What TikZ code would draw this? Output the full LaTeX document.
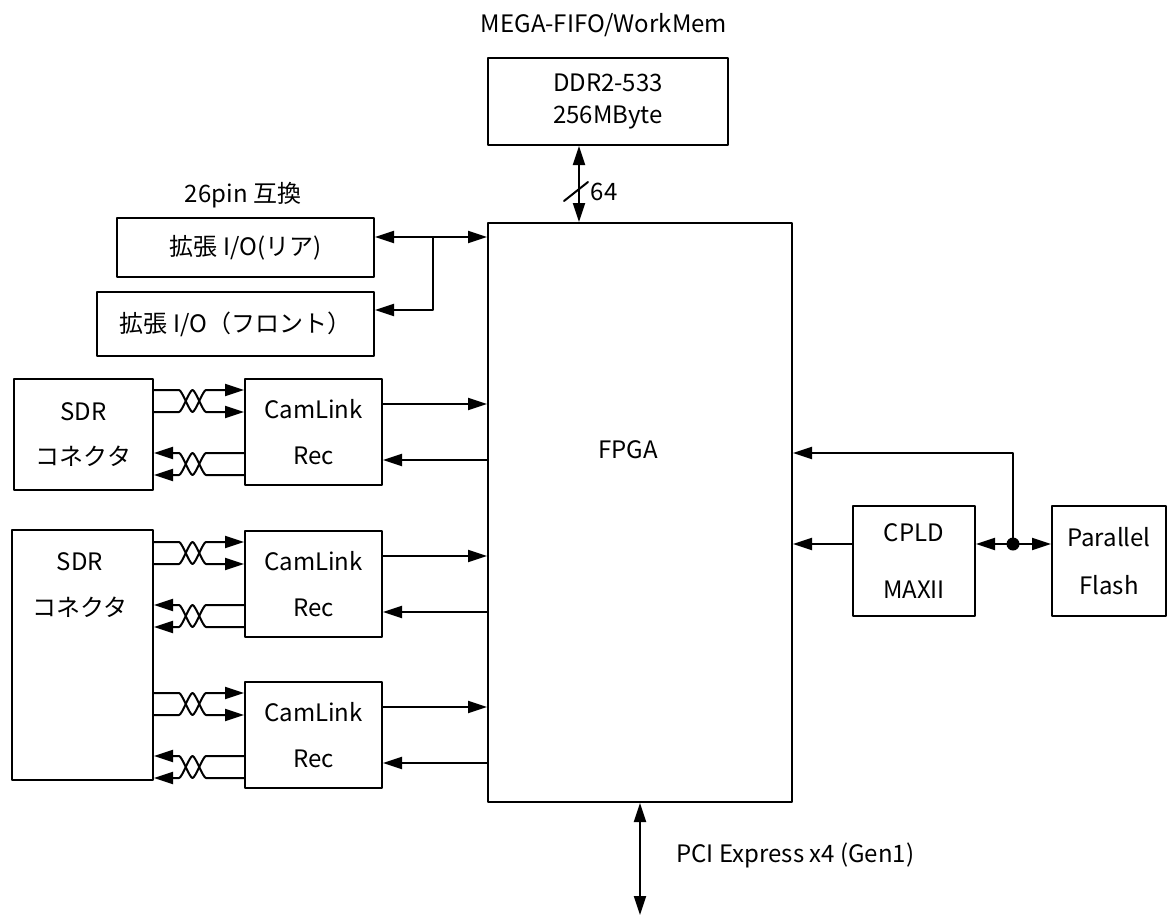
\documentclass[tikz,border=0pt]{standalone}
\usepackage{fontspec}
\setmainfont{Noto Sans CJK JP}
\usetikzlibrary{arrows.meta}

\begin{document}
\begin{tikzpicture}[x=1pt, y=-1pt, line cap=round, line join=round, line width=2pt, font=\fontsize{24}{28}\selectfont, >={Triangle[length=19pt,width=12pt]}]
	\tikzset{blk/.style={draw, rectangle, align=center, inner sep=0pt}}
	\useasboundingbox (0,0) rectangle (1168,916);

	\node[blk, minimum width=240, minimum height=87] (ddr) at (608,101.5) {DDR2-533\\[4pt]256MByte};
	\node[blk, minimum width=304, minimum height=579] (fpga) at (640,512.5) {};
	\node[blk, minimum width=257, minimum height=59] (rear) at (245.5,247.5) {拡張 I/O(リア)};
	\node[blk, minimum width=277, minimum height=64] (front) at (235.5,324) {拡張 I/O（フロント）};
	\node[blk, minimum width=139, minimum height=111] (sdrA) at (83.5,434.5) {SDR\\[17pt]コネクタ};
	\node[blk, minimum width=141, minimum height=250] (sdrB) at (82.5,655) {};
	\node[blk, minimum width=137, minimum height=106] (camA) at (313.5,432) {CamLink\\[18pt]Rec};
	\node[blk, minimum width=137, minimum height=106] (camB) at (313.5,584) {CamLink\\[18pt]Rec};
	\node[blk, minimum width=137, minimum height=106] (camC) at (313.5,735) {CamLink\\[18pt]Rec};
	\node[blk, minimum width=122, minimum height=110] (cpld) at (914,561) {CPLD\\[29pt]MAXII};
	\node[blk, minimum width=114, minimum height=110] (flash) at (1109,561) {Parallel\\[20pt]Flash};

	\node (title) at (604,25) {MEGA-FIFO/WorkMem};
	\node (pinlbl) at (243,195) {26pin 互換};
	\node (fpgalbl) at (628,450) {FPGA};
	\node[align=center] (sdrBlbl) at (80,585) {SDR\\[18pt]コネクタ};
	\node[right] (pcilbl) at (672,855) {PCI Express x4 (Gen1)};
	\node (buslbl) at (604,192) {64};

	\foreach \c/\s in {camA/sdrA, camB/sdrB, camC/sdrB}{
		\foreach \off/\dy/\tip in {12/22/->, 34/-22/->, 75/22/<-, 97/-22/<-}{
			\coordinate (w) at ([yshift={-\off}]\c.north west);
			\draw[\tip] (w -| \s.east) -- ++(25,0)
				.. controls +(3,0) and +(-3,0) .. ++(13.5,\dy)
				.. controls +(3,0) and +(-3,0) .. ++(13.5,{-(\dy)}) -- (w);
		}
		\coordinate (u) at ([yshift=-26pt]\c.north east);
		\coordinate (v) at ([yshift=-82pt]\c.north east);
		\draw[->] (u) -- (u -| fpga.west);
		\draw[<-] (v) -- (v -| fpga.west);
	}

	\coordinate (jn) at (433,237);
	\coordinate (jf) at (433,310);
	\draw[<->] (rear.east |- jn) -- (jn -| fpga.west);
	\draw[->] (jn) -- (jf) -- (jf -| front.east);

	\coordinate (bus) at (579,0);
	\coordinate (bm) at (579,192);
	\draw[<->] (bus |- ddr.south) -- (bus |- fpga.north);
	\draw ([shift={(-15,9)}]bm) -- ([shift={(9,-10)}]bm);

	\coordinate (fl) at (1013,544);
	\coordinate (ft) at (1013,453);
	\draw[->] (fl) -- (ft) -- (ft -| fpga.east);
	\draw[->] (fl) -- (cpld.east |- fl);
	\draw[->] (fl) -- (fl -| flash.west);
	\draw[->] (cpld.west |- fl) -- (fl -| fpga.east);
	\fill (fl) circle[radius=6.5pt];

	\coordinate (pci) at (640,915);
	\draw[<->] (fpga.south) -- (pci);
\end{tikzpicture}
\end{document}
